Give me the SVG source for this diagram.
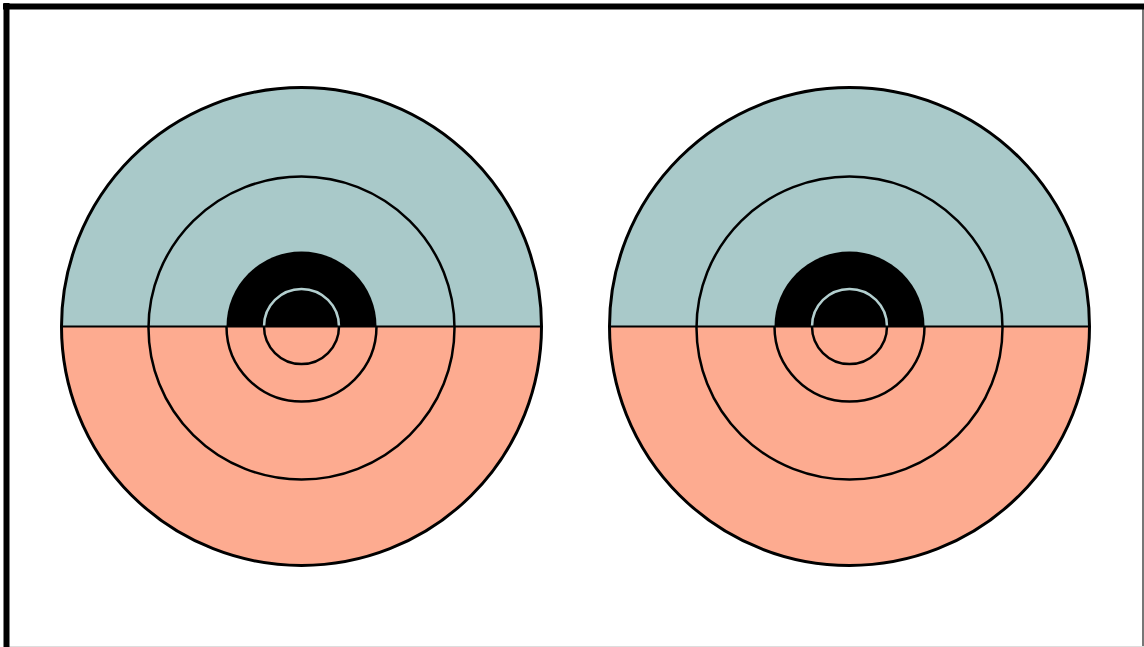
<svg xmlns="http://www.w3.org/2000/svg" width="1144" height="647" viewBox="0 0 1144 647">
<style>
.up{fill:#a9c9c9}
.dn{fill:#fdab90}
.blk{fill:#000}
.ring{fill:none;stroke:#000;stroke-width:2.5}
.outer{fill:none;stroke:#000;stroke-width:3}
.mid{stroke:#000;stroke-width:2}
.gray{fill:none;stroke:#b3cfcf;stroke-width:2.5}
</style>
<rect x="0" y="0" width="1144" height="647" fill="#fff"/>
<line x1="1143" y1="6" x2="1143" y2="647" stroke="#777" stroke-width="2"/>
<line x1="6" y1="646.5" x2="1144" y2="646.5" stroke="#ddd" stroke-width="1"/>
<line x1="3" y1="6.5" x2="1144" y2="6.5" stroke="#000" stroke-width="6"/>
<line x1="6.5" y1="3" x2="6.5" y2="647" stroke="#000" stroke-width="6"/>
<defs>
<g id="target">
<path class="up" d="M-240,-0.5 A240,239 0 0 1 240,-0.5 Z"/>
<path class="dn" d="M-240,-0.5 A240,239 0 0 0 240,-0.5 Z"/>
<path class="blk" d="M-75,-0.5 A75,75 0 0 1 75,-0.5 Z"/>
<ellipse class="ring" rx="153" ry="151.5" cy="1"/>
<path class="gray" d="M-37.5,-0.5 A37.5,37.5 0 0 1 37.5,-0.5"/>
<path class="ring" d="M-37.5,-0.5 A37.5,37.5 0 0 0 37.5,-0.5"/>
<path class="ring" d="M-75,-0.5 A75,75 0 0 0 75,-0.5"/>
<line class="mid" x1="-240" y1="-0.5" x2="240" y2="-0.5"/>
<ellipse class="outer" rx="240" ry="239" cy="-0.5"/>
</g>
</defs>
<g id="target-left"><use href="#target" x="301.5" y="327"/></g>
<g id="target-right"><use href="#target" x="849.5" y="327"/></g>
</svg>
